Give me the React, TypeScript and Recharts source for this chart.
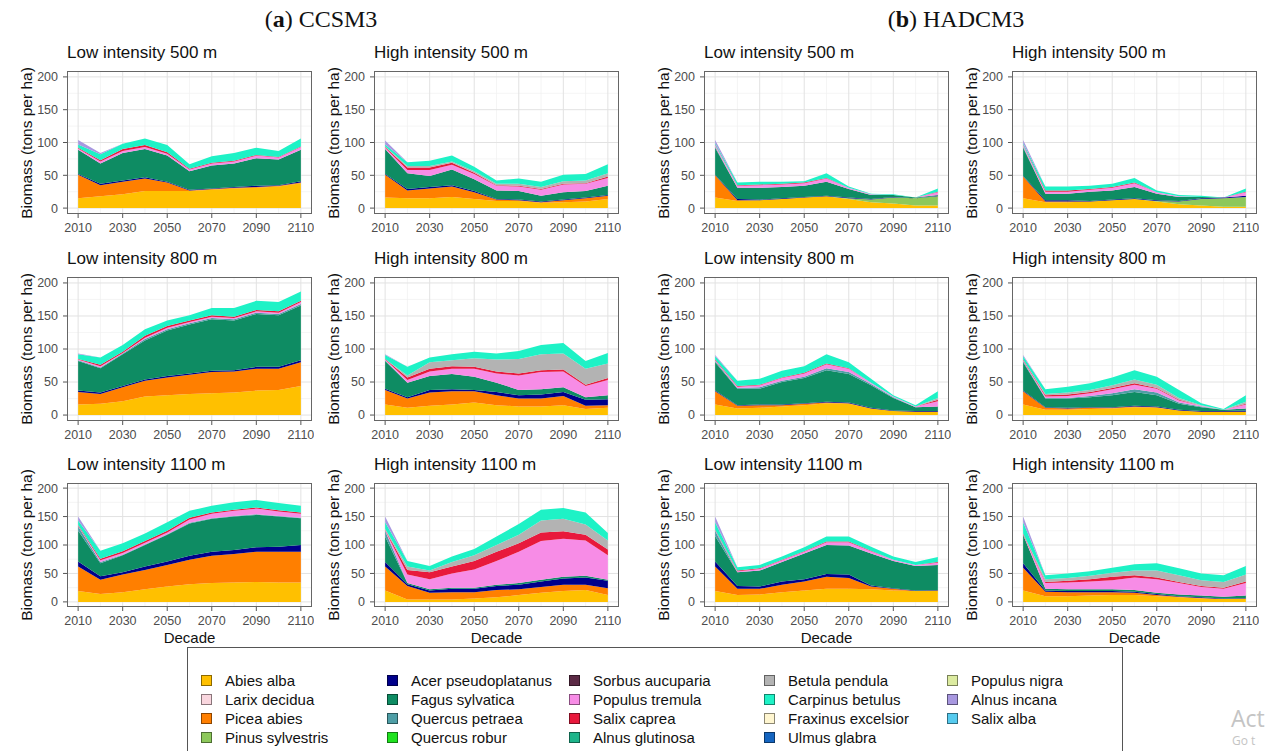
import React from 'react';
import { AreaChart, Area, XAxis, YAxis, CartesianGrid } from 'recharts';

// ---------- categories / ticks ----------
const decades = [2010, 2020, 2030, 2040, 2050, 2060, 2070, 2080, 2090, 2100, 2110];
const xTicks = [2010, 2030, 2050, 2070, 2090, 2110];
const xMinor = [2020, 2040, 2060, 2080, 2100];
const yTicks = [0, 50, 100, 150, 200];
const yMinor = [25, 75, 125, 175];

const speciesKeys = [
  'abies', 'larix', 'picea', 'pinus',
  'acer', 'fagus', 'qpet', 'qrob',
  'sorbus', 'poptrem', 'salcap', 'alnglu',
  'betula', 'carpinus', 'fraxinus', 'ulmus',
  'popnig', 'alninc', 'salalb',
];
const speciesNames = [
  'Abies alba', 'Larix decidua', 'Picea abies', 'Pinus sylvestris',
  'Acer pseudoplatanus', 'Fagus sylvatica', 'Quercus petraea', 'Quercus robur',
  'Sorbus aucuparia', 'Populus tremula', 'Salix caprea', 'Alnus glutinosa',
  'Betula pendula', 'Carpinus betulus', 'Fraxinus excelsior', 'Ulmus glabra',
  'Populus nigra', 'Alnus incana', 'Salix alba',
];

const modelTitles = ['CCSM3', 'HADCM3'];
const panelTitles = [
  ['Low intensity 500 m', 'High intensity 500 m'],
  ['Low intensity 800 m', 'High intensity 800 m'],
  ['Low intensity 1100 m', 'High intensity 1100 m'],
];

type Panel = Record<string, number[]>;

// ---------- series values (biomass, tons per ha, per species layer) ----------
// CCSM3
const ccsmLow500: Panel = {
  abies: [15, 18, 21, 26, 26, 26, 28, 30, 31, 33, 38],
  picea: [36, 17, 19, 19, 13, 1, 1, 1, 1, 1, 1],
  acer: [1, 2, 2, 2, 1, 1, 1, 1, 2, 1, 2],
  fagus: [37, 31, 42, 43, 40, 28, 35, 36, 42, 39, 48],
  poptrem: [2, 3, 3, 3, 3, 3, 3, 3, 4, 3, 4],
  salcap: [1, 2, 3, 3, 2, 1, 1, 1, 1, 1, 1],
  carpinus: [5, 9, 8, 10, 11, 7, 10, 12, 11, 9, 12],
  alninc: [7, 2, 0, 0, 0, 0, 0, 0, 0, 0, 0],
};
const ccsmHigh500: Panel = {
  abies: [16, 15, 15, 17, 14, 11, 11, 8, 9, 10, 14],
  picea: [35, 12, 15, 16, 10, 2, 1, 1, 3, 5, 5],
  acer: [1, 2, 2, 2, 2, 1, 1, 1, 1, 1, 1],
  fagus: [38, 24, 17, 24, 18, 13, 13, 9, 11, 10, 14],
  poptrem: [2, 5, 9, 7, 8, 7, 7, 9, 12, 11, 12],
  salcap: [1, 4, 4, 3, 2, 1, 1, 1, 1, 1, 2],
  betula: [1, 2, 2, 2, 2, 2, 3, 3, 4, 4, 5],
  carpinus: [3, 6, 8, 9, 7, 5, 8, 8, 10, 10, 14],
  alninc: [6, 0, 0, 0, 0, 0, 0, 0, 0, 0, 0],
};
const ccsmLow800: Panel = {
  abies: [16, 17, 21, 28, 30, 32, 33, 34, 37, 38, 44],
  picea: [19, 15, 21, 24, 27, 29, 32, 32, 33, 32, 36],
  acer: [2, 2, 2, 2, 2, 2, 2, 2, 3, 3, 3],
  fagus: [45, 37, 48, 59, 69, 74, 78, 75, 80, 78, 83],
  qpet: [1, 1, 1, 2, 2, 2, 2, 2, 2, 2, 2],
  poptrem: [1, 2, 1, 2, 2, 2, 2, 2, 2, 2, 3],
  salcap: [1, 2, 2, 3, 3, 2, 2, 2, 2, 2, 2],
  carpinus: [7, 11, 10, 10, 8, 8, 11, 13, 14, 14, 14],
  alninc: [1, 0, 0, 0, 0, 0, 0, 0, 0, 0, 0],
};
const ccsmHigh800: Panel = {
  abies: [16, 11, 14, 16, 19, 15, 13, 13, 15, 9, 11],
  picea: [22, 14, 20, 20, 17, 15, 12, 12, 14, 5, 4],
  acer: [2, 2, 4, 3, 2, 5, 5, 6, 6, 9, 9],
  fagus: [42, 22, 21, 23, 20, 14, 8, 8, 7, 4, 6],
  qpet: [1, 0, 0, 0, 0, 0, 0, 0, 0, 0, 0],
  poptrem: [1, 4, 7, 8, 12, 14, 22, 26, 24, 17, 23],
  salcap: [1, 4, 4, 4, 3, 3, 3, 3, 3, 2, 3],
  betula: [0, 3, 10, 9, 13, 18, 22, 24, 24, 24, 22],
  carpinus: [6, 13, 7, 9, 10, 9, 12, 14, 16, 12, 16],
  alninc: [1, 0, 0, 0, 0, 0, 0, 0, 0, 0, 0],
};
const ccsmLow1100: Panel = {
  abies: [19, 14, 17, 22, 27, 31, 33, 34, 35, 34, 34],
  picea: [43, 25, 31, 34, 38, 43, 48, 50, 53, 54, 54],
  acer: [9, 6, 4, 6, 6, 7, 7, 7, 8, 9, 12],
  fagus: [54, 23, 30, 38, 47, 57, 58, 59, 57, 53, 47],
  qpet: [8, 2, 1, 1, 1, 1, 1, 1, 1, 1, 1],
  poptrem: [1, 3, 3, 3, 3, 6, 8, 9, 10, 8, 7],
  salcap: [1, 3, 3, 3, 3, 3, 2, 2, 2, 2, 2],
  carpinus: [8, 14, 14, 13, 15, 12, 12, 13, 13, 13, 12],
  alninc: [7, 0, 0, 0, 0, 0, 0, 0, 0, 0, 0],
};
const ccsmHigh1100: Panel = {
  abies: [20, 4, 4, 4, 6, 8, 12, 16, 19, 21, 12],
  picea: [42, 24, 12, 13, 11, 13, 10, 10, 11, 9, 12],
  acer: [8, 3, 4, 6, 6, 7, 8, 10, 11, 13, 13],
  fagus: [45, 2, 2, 2, 2, 2, 3, 3, 3, 3, 2],
  qpet: [10, 0, 0, 0, 0, 0, 0, 0, 0, 0, 0],
  poptrem: [1, 15, 18, 25, 32, 42, 55, 68, 67, 62, 43],
  salcap: [1, 8, 12, 12, 15, 16, 15, 15, 13, 10, 10],
  betula: [1, 6, 3, 8, 10, 12, 15, 21, 22, 18, 16],
  carpinus: [12, 10, 8, 10, 11, 15, 19, 19, 19, 21, 13],
  alninc: [10, 0, 0, 0, 0, 0, 0, 0, 0, 0, 0],
};
// HADCM3
const hadLow500: Panel = {
  abies: [16, 11, 12, 14, 16, 18, 14, 9, 7, 4, 4],
  picea: [34, 1, 0, 0, 0, 0, 0, 0, 0, 0, 0],
  pinus: [0, 0, 0, 0, 0, 0, 1, 4, 9, 11, 14],
  acer: [1, 2, 1, 1, 1, 1, 1, 1, 1, 0, 1],
  fagus: [41, 17, 18, 17, 17, 21, 13, 6, 3, 1, 1],
  qpet: [2, 0, 0, 0, 0, 0, 0, 0, 0, 0, 0],
  poptrem: [2, 3, 4, 4, 4, 5, 2, 1, 0, 0, 4],
  salcap: [1, 1, 1, 1, 1, 1, 0, 0, 0, 0, 1],
  carpinus: [2, 4, 4, 3, 2, 7, 2, 1, 1, 0, 5],
  alninc: [5, 0, 0, 0, 0, 0, 0, 0, 0, 0, 0],
};
const hadHigh500: Panel = {
  abies: [15, 9, 9, 10, 12, 14, 10, 6, 4, 2, 2],
  picea: [33, 1, 1, 0, 0, 0, 0, 0, 0, 0, 0],
  pinus: [0, 0, 0, 0, 0, 0, 1, 4, 10, 13, 15],
  acer: [1, 2, 2, 1, 1, 1, 1, 1, 1, 1, 2],
  fagus: [43, 10, 10, 14, 14, 17, 10, 6, 2, 0, 0],
  qpet: [2, 0, 0, 0, 0, 0, 0, 0, 0, 0, 0],
  poptrem: [2, 3, 3, 3, 4, 6, 2, 1, 0, 0, 5],
  salcap: [1, 2, 2, 1, 1, 1, 0, 0, 0, 0, 1],
  carpinus: [2, 6, 6, 5, 5, 7, 3, 2, 2, 0, 5],
  alninc: [5, 0, 0, 0, 0, 0, 0, 0, 0, 0, 0],
};
const hadLow800: Panel = {
  abies: [16, 10, 11, 13, 15, 18, 17, 10, 6, 5, 5],
  picea: [20, 4, 4, 2, 2, 1, 1, 0, 0, 0, 0],
  acer: [1, 1, 1, 1, 1, 1, 1, 1, 1, 1, 1],
  fagus: [43, 25, 24, 34, 38, 48, 43, 34, 19, 6, 7],
  qpet: [2, 1, 2, 2, 2, 3, 3, 2, 1, 0, 0],
  poptrem: [1, 2, 3, 4, 5, 6, 5, 2, 1, 1, 8],
  salcap: [1, 1, 1, 1, 1, 1, 1, 0, 0, 0, 2],
  betula: [0, 0, 0, 0, 0, 0, 0, 0, 0, 0, 3],
  carpinus: [5, 8, 9, 10, 10, 14, 9, 6, 2, 2, 10],
  alninc: [2, 0, 0, 0, 0, 0, 0, 0, 0, 0, 0],
};
const hadHigh800: Panel = {
  abies: [16, 8, 8, 9, 10, 12, 11, 7, 5, 5, 5],
  picea: [20, 3, 2, 2, 1, 1, 1, 0, 0, 0, 0],
  acer: [1, 1, 1, 1, 1, 1, 1, 1, 1, 1, 2],
  fagus: [43, 13, 14, 15, 18, 21, 17, 9, 6, 2, 3],
  qpet: [2, 1, 1, 2, 3, 4, 4, 2, 1, 0, 0],
  poptrem: [1, 2, 3, 4, 6, 7, 6, 3, 1, 0, 6],
  salcap: [1, 2, 2, 2, 2, 2, 1, 1, 0, 0, 1],
  betula: [0, 2, 3, 3, 4, 6, 5, 3, 1, 0, 3],
  carpinus: [5, 7, 9, 10, 12, 14, 12, 12, 3, 1, 10],
  alninc: [2, 0, 0, 0, 0, 0, 0, 0, 0, 0, 0],
};
const hadLow1100: Panel = {
  abies: [19, 12, 13, 17, 20, 23, 23, 22, 20, 19, 20],
  picea: [43, 11, 10, 13, 16, 21, 19, 5, 3, 0, 0],
  acer: [9, 5, 4, 6, 4, 5, 6, 2, 1, 1, 1],
  fagus: [45, 24, 28, 34, 45, 51, 51, 56, 48, 43, 44],
  qpet: [9, 0, 0, 0, 0, 0, 0, 0, 0, 0, 0],
  poptrem: [1, 2, 3, 3, 3, 5, 6, 4, 2, 2, 4],
  salcap: [1, 1, 1, 1, 1, 1, 1, 1, 0, 0, 1],
  carpinus: [13, 6, 6, 6, 7, 9, 9, 7, 6, 5, 9],
  alninc: [10, 0, 0, 0, 0, 0, 0, 0, 0, 0, 0],
};
const hadHigh1100: Panel = {
  abies: [20, 10, 10, 11, 12, 12, 10, 8, 6, 5, 6],
  picea: [40, 8, 7, 6, 5, 4, 2, 1, 1, 0, 0],
  acer: [8, 2, 2, 2, 2, 2, 2, 1, 1, 1, 1],
  fagus: [50, 3, 3, 3, 3, 3, 2, 3, 3, 3, 4],
  poptrem: [1, 10, 12, 14, 16, 22, 24, 20, 15, 14, 22],
  salcap: [1, 2, 3, 4, 6, 4, 3, 2, 2, 2, 3],
  betula: [0, 5, 5, 6, 7, 8, 12, 12, 10, 10, 12],
  carpinus: [20, 7, 8, 8, 9, 11, 13, 12, 12, 12, 15],
  alninc: [10, 0, 0, 0, 0, 0, 0, 0, 0, 0, 0],
};

// rows = elevations, columns = [CCSM low, CCSM high, HAD low, HAD high]
const panelGrid: Panel[][] = [
  [ccsmLow500, ccsmHigh500, hadLow500, hadHigh500],
  [ccsmLow800, ccsmHigh800, hadLow800, hadHigh800],
  [ccsmLow1100, ccsmHigh1100, hadLow1100, hadHigh1100],
];

// ---------- styles ----------
const COLORS: Record<string, string> = {
  abies: '#FFC000', larix: '#F9D6DE', picea: '#FF7F00', pinus: '#8DC85B',
  acer: '#00008B', fagus: '#0E8C63', qpet: '#4E9EA6', qrob: '#1FE21F',
  sorbus: '#5B2A45', poptrem: '#F78CE6', salcap: '#E8193C', alnglu: '#1DB48A',
  betula: '#B3B3B3', carpinus: '#1EF2C6', fraxinus: '#FFF6D0', ulmus: '#1565C0',
  popnig: '#DCEBA0', alninc: '#A898E0', salalb: '#56CBEF',
};
const FONT = "'Liberation Sans', Arial, Helvetica, sans-serif";
const SERIF = "'Liberation Serif', 'Times New Roman', serif";
const COL_LEFT = [67, 374, 704, 1012];
const BOX_W = 245;
const ROW_TOP = [71, 277, 483];
const ROW_H = [143, 144, 124];
const TITLE_TOP = [44, 250, 456];
const YW = 50;
const TOPPAD = 6;
const XH = 24;

function buildRows(panel: Panel) {
  return decades.map((year, i) => {
    const row: Record<string, number> = { year };
    speciesKeys.forEach((k) => {
      row[k] = panel[k] ? panel[k][i] : 0;
    });
    return row;
  });
}

function SmallPanel({ panel, title, left, rowIdx, showDecade }: {
  panel: Panel; title: string; left: number; rowIdx: number; showDecade: boolean;
}) {
  const top = ROW_TOP[rowIdx];
  const h = ROW_H[rowIdx];
  const rows = buildRows(panel);
  const present = speciesKeys.filter((k) => panel[k]);
  return (
    <>
      <div style={{ position: 'absolute', left, top: TITLE_TOP[rowIdx], fontSize: 17, lineHeight: '17px', color: '#111', whiteSpace: 'nowrap' }}>
        {title}
      </div>
      <div style={{
        position: 'absolute', left: left - 40, top: top + h / 2,
        transform: 'translate(-50%, -50%) rotate(-90deg)', fontSize: 15.5, color: '#111', whiteSpace: 'nowrap',
      }}>
        Biomass (tons per ha)
      </div>
      <div style={{ position: 'absolute', left: left - YW, top: top - TOPPAD }}>
        <AreaChart width={YW + BOX_W + 2} height={h + TOPPAD + XH} data={rows}
          margin={{ top: TOPPAD, right: 2, bottom: 0, left: 0 }}>
          <CartesianGrid stroke="#f0f0f0" strokeWidth={0.7} horizontalValues={yMinor} verticalValues={xMinor} />
          <CartesianGrid stroke="#e2e2e2" strokeWidth={1} horizontalValues={yTicks} verticalValues={xTicks} />
          <XAxis dataKey="year" type="number" domain={[2005, 2115]} ticks={xTicks} allowDataOverflow
            height={XH} axisLine={false} tickSize={4} tickMargin={5}
            tickLine={{ stroke: '#555' }} tick={{ fontSize: 12.5, fill: '#4d4d4d', fontFamily: FONT }} />
          <YAxis type="number" domain={[-9, 209]} ticks={yTicks} allowDataOverflow
            width={YW} axisLine={false} tickSize={4} tickMargin={5}
            tickLine={{ stroke: '#555' }} tick={{ fontSize: 12.5, fill: '#4d4d4d', fontFamily: FONT }} />
          {present.map((k) => (
            <Area key={k} dataKey={k} stackId="s" type="linear" stroke="none"
              fill={COLORS[k]} fillOpacity={1} isAnimationActive={false} />
          ))}
        </AreaChart>
      </div>
      <div style={{ position: 'absolute', left, top, width: BOX_W, height: h, border: '1px solid #666', boxSizing: 'border-box', pointerEvents: 'none' }} />
      {showDecade && (
        <div style={{ position: 'absolute', left: left + BOX_W / 2, top: top + h + 22, transform: 'translateX(-50%)', fontSize: 15, color: '#111' }}>
          Decade
        </div>
      )}
    </>
  );
}

const LEG_COL_X = [201, 387, 569, 764, 947];
const LEG_ROW_Y = [680, 699, 718, 737];

export default function App() {
  return (
    <div style={{ position: 'absolute', left: 0, top: 0, width: 1267, height: 751, overflow: 'hidden', background: '#fff', fontFamily: FONT }}>
      {modelTitles.map((m, i) => (
        <div key={m} style={{ position: 'absolute', left: i === 0 ? 321 : 956, top: 6, transform: 'translateX(-50%)', fontFamily: SERIF, fontSize: 24, color: '#111', whiteSpace: 'nowrap' }}>
          (<b>{i === 0 ? 'a' : 'b'}</b>) {m}
        </div>
      ))}
      {panelGrid.map((row, r) =>
        row.map((panel, c) => (
          <SmallPanel key={`${r}-${c}`} panel={panel} title={panelTitles[r][c % 2]}
            left={COL_LEFT[c]} rowIdx={r} showDecade={r === 2} />
        ))
      )}
      <div style={{ position: 'absolute', left: 187, top: 647, width: 936, height: 120, border: '1px solid #555', boxSizing: 'border-box' }} />
      {speciesKeys.map((k, i) => {
        const col = Math.floor(i / 4);
        const rw = i % 4;
        return (
          <div key={k} style={{ position: 'absolute', left: LEG_COL_X[col], top: LEG_ROW_Y[rw] - 8, height: 16, display: 'flex', alignItems: 'center', whiteSpace: 'nowrap' }}>
            <span style={{ display: 'inline-block', width: 11, height: 11, background: COLORS[k], border: '1px solid rgba(0,0,0,0.45)', boxSizing: 'border-box' }} />
            <span style={{ marginLeft: 13, fontSize: 15, color: '#111' }}>{speciesNames[i]}</span>
          </div>
        );
      })}
      <div style={{ position: 'absolute', left: 1231, top: 706, fontSize: 23, lineHeight: '24px', color: '#c4c4c4', fontFamily: "'Open Sans', sans-serif", whiteSpace: 'nowrap' }}>Act</div>
      <div style={{ position: 'absolute', left: 1232, top: 734, fontSize: 12, lineHeight: '14px', color: '#c4c4c4', fontFamily: "'Open Sans', sans-serif", whiteSpace: 'nowrap' }}>Go t</div>
    </div>
  );
}
